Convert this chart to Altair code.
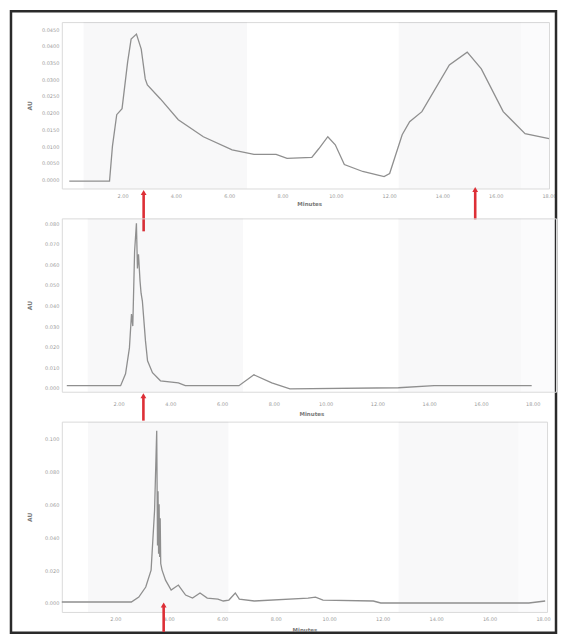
import altair as alt
import pandas as pd

# ---------------- data ----------------
# Panel 1 (top chromatogram)
p1_t = [0.0, 1.51, 1.62, 1.78, 1.98, 2.19, 2.32, 2.52, 2.70, 2.85, 2.93, 3.42, 4.09, 5.03,
        6.11, 6.93, 7.76, 8.17, 9.10, 9.36, 9.70, 9.98, 10.32, 11.01, 11.81, 12.02, 12.49,
        12.77, 13.23, 14.26, 14.93, 15.46, 16.28, 17.10, 18.0]
p1_v = [-0.0005, -0.0005, 0.010, 0.0194, 0.0212, 0.0352, 0.0420, 0.0435, 0.0390, 0.0301,
        0.0283, 0.0241, 0.0179, 0.0128, 0.0089, 0.0075, 0.0075, 0.0063, 0.0066, 0.0092,
        0.0128, 0.0104, 0.0045, 0.0024, 0.0009, 0.0018, 0.0134, 0.0173, 0.0203, 0.0343,
        0.0381, 0.0331, 0.0203, 0.0137, 0.0122]
p1_yticks = [0.000, 0.005, 0.010, 0.015, 0.020, 0.025, 0.030, 0.035, 0.040, 0.045]
p1_arrows = [2.79, 15.23]
p1_band_a = [0.54, 12.36, 16.95]
p1_band_b = [6.67, 16.95, 18.0]
p1_band_o = [0.035, 0.035, 0.018]

# Panel 2 (middle chromatogram)
p2_t = [0.0, 2.08, 2.27, 2.42, 2.50, 2.55, 2.62, 2.69, 2.73, 2.77, 2.83, 2.87, 2.92, 3.04,
        3.12, 3.31, 3.62, 4.31, 4.58, 6.65, 7.23, 7.92, 8.62, 12.81, 14.19, 17.96]
p2_v = [0.001, 0.001, 0.0068, 0.0194, 0.0359, 0.0300, 0.0664, 0.0800, 0.0580, 0.0650,
        0.0519, 0.0460, 0.0422, 0.0228, 0.0131, 0.0073, 0.0034, 0.0024, 0.001, 0.001,
        0.0063, 0.0024, -0.0005, 0.0, 0.001, 0.001]
p2_yticks = [0.000, 0.010, 0.020, 0.030, 0.040, 0.050, 0.060, 0.070, 0.080]
p2_arrows = [2.96]
p2_band_a = [0.81, 12.81, 17.54]
p2_band_b = [6.81, 17.54, 18.9]
p2_band_o = [0.035, 0.035, 0.018]

# Panel 3 (bottom chromatogram)
p3_t = [0.0, 2.60, 2.88, 3.14, 3.34, 3.47, 3.55, 3.58, 3.60, 3.62, 3.64, 3.66, 3.68, 3.70,
        3.75, 3.88, 4.09, 4.36, 4.63, 4.89, 5.17, 5.44, 5.84, 6.04, 6.25, 6.49, 6.64, 7.20,
        9.21, 9.49, 9.77, 11.65, 11.93, 17.47, 18.08]
p3_v = [0.0006, 0.0006, 0.0036, 0.0097, 0.0200, 0.0564, 0.1048, 0.0350, 0.0680, 0.0300,
        0.0600, 0.0280, 0.0515, 0.0240, 0.0200, 0.0139, 0.0079, 0.0109, 0.0048, 0.0030,
        0.0061, 0.0030, 0.0024, 0.0012, 0.0018, 0.0061, 0.0024, 0.0012, 0.0030, 0.0036,
        0.0018, 0.0012, 0.0, 0.0, 0.0012]
p3_yticks = [0.000, 0.020, 0.040, 0.060, 0.080, 0.100]
p3_arrows = [3.81]
p3_band_a = [0.98, 12.6, 17.07]
p3_band_b = [6.23, 17.07, 18.15]
p3_band_o = [0.035, 0.035, 0.018]

x_ticks = [2, 4, 6, 8, 10, 12, 14, 16, 18]

LINE = "#8f8f8f"
RED = "#dd2f36"
LAB = "#9a9a9a"
TIT = "#7a7a7a"


def panel(t, v, yticks, yfmt, ydom, xdom, xrange, width, height, band_a, band_b, band_o,
          arrows, label_pad, title_y, extra=None):
    xs = alt.Scale(domain=xdom, range=xrange, nice=False, zero=False)
    ys = alt.Scale(domain=ydom, nice=False, zero=False)
    xaxis = alt.Axis(values=x_ticks, format=".2f", title="Minutes", grid=False, domain=False,
                     ticks=False, labelPadding=label_pad, labelFontSize=5, labelColor=LAB,
                     labelFlush=False, labelOverlap=False, titleFontSize=5.5,
                     titleFontWeight="bold", titleColor=TIT, titleY=title_y,
                     titleBaseline="middle")
    yaxis = alt.Axis(values=yticks, format=yfmt, title="AU", grid=False, domain=False,
                     ticks=False, labelPadding=3, labelFontSize=5, labelColor=LAB,
                     labelOverlap=False, labelFlush=False, titleFontSize=6, titleColor=TIT,
                     titleX=-29)
    bdf = pd.DataFrame({"a": band_a, "b": band_b, "o": band_o})
    bands = alt.Chart(bdf).mark_rect(fill="#2b2b55").encode(
        x=alt.X("a:Q", scale=xs, axis=xaxis), x2="b:Q",
        y=alt.value(0), y2=alt.value(height),
        opacity=alt.Opacity("o:Q", scale=None))
    df = pd.DataFrame({"t": t, "v": v, "i": list(range(len(t)))})
    line = alt.Chart(df).mark_line(color=LINE, strokeWidth=1.3).encode(
        x=alt.X("t:Q", scale=xs), y=alt.Y("v:Q", scale=ys, axis=yaxis), order="i:Q")
    layers = [bands, line]
    for (at, tip, bottom) in arrows:
        adf = pd.DataFrame({"t": [at]})
        layers.append(alt.Chart(adf).mark_rule(color=RED, strokeWidth=2.6).encode(
            x=alt.X("t:Q", scale=xs), y=alt.value(tip + 4), y2=alt.value(bottom)))
        layers.append(alt.Chart(adf).mark_point(shape="triangle-up", filled=True, size=34,
                                                 color=RED, opacity=1).encode(
            x=alt.X("t:Q", scale=xs), y=alt.value(tip + 3)))
    if extra is not None:
        layers.append(extra)
    return alt.layer(*layers).properties(width=width, height=height)


frame = alt.Chart(pd.DataFrame({"k": [0]})).mark_rect(
    fill=None, stroke="#2a2a2a", strokeWidth=2.5).encode(
    x=alt.value(-51), x2=alt.value(496), y=alt.value(-11), y2=alt.value(613))

c1 = panel(p1_t, p1_v, p1_yticks, ".4f", [-0.00268, 0.04709], [0, 18], [7.5, 489], 489, 167,
           p1_band_a, p1_band_b, p1_band_o,
           [(p1_arrows[0], 168, 210), (p1_arrows[1], 165, 198)], 5, 15, extra=frame)
c2 = panel(p2_t, p2_v, p2_yticks, ".3f", [-0.00194, 0.08242], [0, 18.9], [5, 496], 496, 174,
           p2_band_a, p2_band_b, p2_band_o,
           [(p2_arrows[0], 175, 203)], 10, 22)
c3 = panel(p3_t, p3_v, p3_yticks, ".3f", [-0.00545, 0.1103], [0, 18.15], [0, 487], 487, 191,
           p3_band_a, p3_band_b, p3_band_o,
           [(p3_arrows[0], 181, 211)], 5, 18)

chart = alt.vconcat(c1, c2, c3, spacing=30, bounds="flush").properties(
    padding={"left": 1, "top": 0, "right": 0, "bottom": 0},
    background="white",
).configure_view(stroke="#dadada", strokeWidth=1).configure_axis(
    labelFont="DejaVu Sans", titleFont="DejaVu Sans")

chart.save("out.html", embed_options={"renderer": "svg", "actions": False})
